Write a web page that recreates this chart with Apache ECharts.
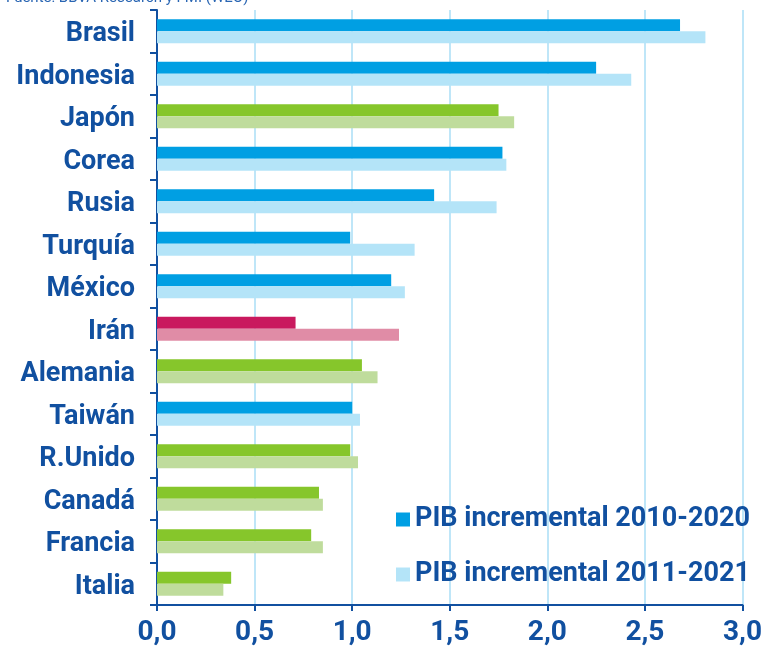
<!DOCTYPE html>
<html>
<head>
<meta charset="utf-8">
<script src="https://cdn.jsdelivr.net/npm/echarts@6/dist/echarts.min.js"></script>
<style>
html,body{margin:0;padding:0;background:#fff;}
#c{width:765px;height:661px;}
</style>
</head>
<body>
<div id="c"></div>
<script>
const categories = ['Brasil','Indonesia','Japón','Corea','Rusia','Turquía','México','Irán','Alemania','Taiwán','R.Unido','Canadá','Francia','Italia'];
const groups = ['em','em','dev','em','em','em','em','ir','dev','em','dev','dev','dev','dev'];
const pib2010_2020 = [2.68,2.25,1.75,1.77,1.42,0.99,1.20,0.71,1.05,1.00,0.99,0.83,0.79,0.38];
const pib2011_2021 = [2.81,2.43,1.83,1.79,1.74,1.32,1.27,1.24,1.13,1.04,1.03,0.85,0.85,0.34];
const seriesNames = ['PIB incremental 2010-2020','PIB incremental 2011-2021'];
const xTickLabels = {'0':'0,0','0.5':'0,5','1':'1,0','1.5':'1,5','2':'2,0','2.5':'2,5','3':'3,0'};
const sourceText = 'Fuente: BBVA Research y FMI (WEO)';

const TEXT = '#1150A0';
const palette = {
  em:  ['#009FE3', '#B4E4F8'],
  dev: ['#86C62B', '#BFDC9C'],
  ir:  ['#C9195E', '#E08CA6']
};

function buildData(vals, idx) {
  return vals.map((v, i) => ({ value: v, itemStyle: { color: palette[groups[i]][idx] } }));
}

const chart = echarts.init(document.getElementById('c'));
chart.setOption({
  animation: false,
  backgroundColor: '#fff',
  textStyle: { fontFamily: 'Roboto' },
  graphic: [{
    type: 'text', left: 6, top: -9,
    style: { text: sourceText, fill: '#2A66B3', font: '15px Roboto' }
  }],
  grid: { left: 157, right: 21, top: 10, bottom: 56, containLabel: false },
  legend: {
    orient: 'vertical',
    left: 391, top: 501,
    itemWidth: 14, itemHeight: 14, itemGap: 28,
    icon: 'rect',
    textStyle: { color: TEXT, fontSize: 27, fontWeight: 'bold', fontFamily: 'Roboto' },
    data: seriesNames
  },
  xAxis: {
    type: 'value', min: 0, max: 3, interval: 0.5,
    axisLine: { show: true, lineStyle: { color: TEXT, width: 2 } },
    axisTick: { show: true, length: 6, lineStyle: { color: TEXT, width: 2 } },
    axisLabel: {
      color: TEXT, fontSize: 28, fontWeight: 'bold', fontFamily: 'Roboto', margin: 14,
      formatter: v => xTickLabels[String(v)] || String(v).replace('.', ',')
    },
    splitLine: { show: true, lineStyle: { color: '#BFE6F8', width: 2 } }
  },
  yAxis: {
    type: 'category', data: categories, inverse: true,
    axisLine: { show: true, lineStyle: { color: TEXT, width: 2 } },
    axisTick: { show: true, length: 7, lineStyle: { color: TEXT, width: 2 } },
    axisLabel: {
      margin: 22,
      formatter: v => '{c|' + v + '}',
      rich: { c: { color: TEXT, fontSize: 27, fontWeight: 'bold', fontFamily: 'Roboto', padding: [6, 0, 0, 0] } }
    },
    splitLine: { show: false }
  },
  series: [
    { name: seriesNames[0], type: 'bar', barWidth: 12, barGap: '0%', itemStyle: { color: palette.em[0] }, data: buildData(pib2010_2020, 0) },
    { name: seriesNames[1], type: 'bar', barWidth: 12, barGap: '0%', itemStyle: { color: palette.em[1] }, data: buildData(pib2011_2021, 1) }
  ]
});
</script>
</body>
</html>
